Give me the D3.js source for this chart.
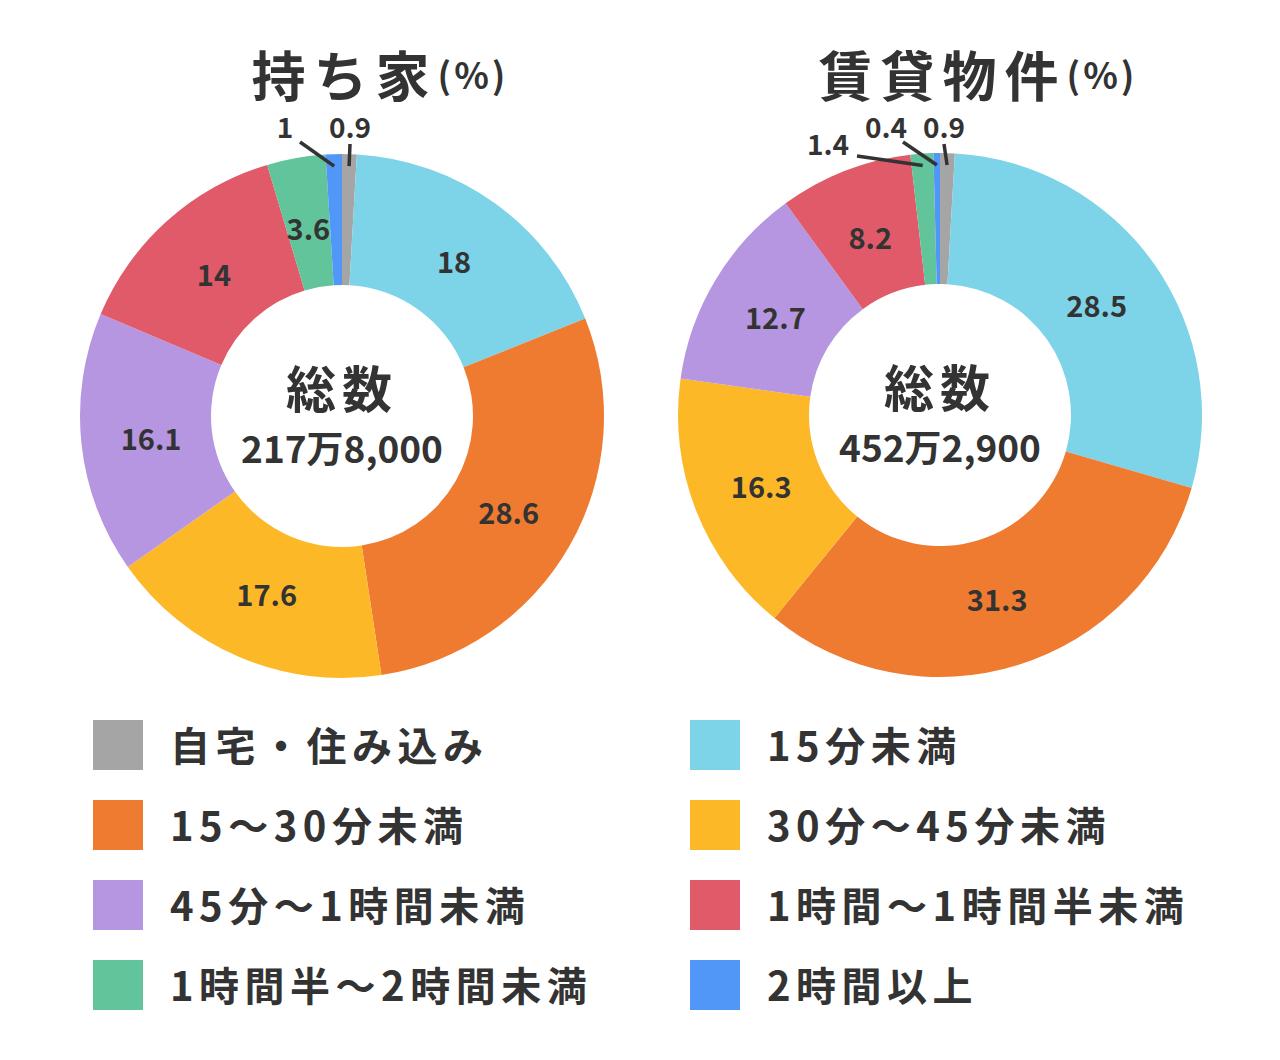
<!DOCTYPE html><html><head><meta charset="utf-8"><script src="https://cdn.jsdelivr.net/npm/d3@7"></script>
<style>body{margin:0;background:#fff}text{font-family:"Noto Sans CJK JP","Noto Sans",sans-serif;fill:#333;font-weight:700}</style></head><body>
<svg id="c" width="1280" height="1060"></svg>
<script>
const categories=["自宅・住み込み","15分未満","15〜30分未満","30分〜45分未満","45分〜1時間未満","1時間〜1時間半未満","1時間半〜2時間未満","2時間以上"];
const colors=["#a5a5a5","#7dd3e8","#ee7b30","#fdb827","#b696e0","#e05a6a","#61c49a","#5097f7"];
const ownedValues=[0.9,18,28.6,17.6,16.1,14,3.6,1];
const rentalValues=[0.9,28.5,31.3,16.3,12.7,8.2,1.4,0.4];
const charts=[
 {title:"持ち家",total:"217万8,000",vals:ownedValues,cx:342,cy:416,
  callouts:{0:[350,126,350,144],7:[285,126,300,142]}},
 {title:"賃貸物件",total:"452万2,900",vals:rentalValues,cx:940,cy:415,
  callouts:{0:[944,126,944,144],7:[886,126,903,142],6:[828,143,857,156]}}
];
const svg=d3.select("#c");
charts.forEach(ch=>{
 const g=svg.append("g").attr("transform",`translate(${ch.cx},${ch.cy})`);
 const pie=d3.pie().sort(null).value(d=>d)(ch.vals);
 const arc=d3.arc().innerRadius(131).outerRadius(262);
 g.selectAll("path").data(pie).join("path").attr("d",arc).attr("fill",(d,i)=>colors[i]);
 pie.forEach((d,i)=>{
  const m=(d.startAngle+d.endAngle)/2;
  if(ch.callouts[i]){
   const [lx,ly,sx,sy]=ch.callouts[i];
   const px=Math.sin(m)*250, py=-Math.cos(m)*250;
   g.append("text").attr("x",lx-ch.cx).attr("y",ly-ch.cy).attr("text-anchor","middle").attr("dominant-baseline","central").attr("font-size",28).text(ch.vals[i]);
   g.append("line").attr("x1",sx-ch.cx).attr("y1",sy-ch.cy).attr("x2",px).attr("y2",py).attr("stroke","#333").attr("stroke-width",3.5);
  } else {
   const c=d3.arc().innerRadius(192).outerRadius(192).centroid(d);
   g.append("text").attr("x",c[0]).attr("y",c[1]).attr("text-anchor","middle").attr("dominant-baseline","central").attr("font-size",29).text(ch.vals[i]);
  }
 });
 g.append("text").attr("y",-30).attr("text-anchor","middle").attr("dominant-baseline","central").attr("font-size",50).attr("letter-spacing",6).text("総数");
 g.append("text").attr("y",31).attr("text-anchor","middle").attr("dominant-baseline","central").attr("font-size",37).text(ch.total);
 const t=svg.append("text").attr("x",ch.cx+38).attr("y",73).attr("text-anchor","middle").attr("dominant-baseline","central").attr("font-size",54).attr("letter-spacing",8);
 t.append("tspan").text(ch.title);
 t.append("tspan").attr("font-size",36).attr("letter-spacing",3).text("(%)");
});
const lg=svg.append("g");
categories.forEach((c,i)=>{
 const col=i%2, row=Math.floor(i/2);
 const x=col?690:93, y=720+row*80;
 lg.append("rect").attr("x",x).attr("y",y).attr("width",50).attr("height",50).attr("fill",colors[i]);
 lg.append("text").attr("x",x+77).attr("y",y+24).attr("dominant-baseline","central").attr("font-size",40).attr("letter-spacing",5.5).text(c);
});
</script></body></html>
